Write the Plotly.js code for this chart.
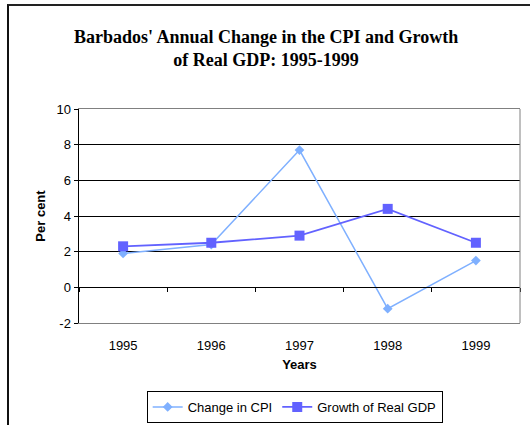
<!DOCTYPE html>
<html>
<head>
<meta charset="utf-8">
<script src="https://cdn.plot.ly/plotly-3.0.1.min.js"></script>
<style>
  html, body { margin: 0; padding: 0; background: #fff; overflow: hidden; width: 530px; height: 425px; }
  #chart { position: absolute; left: 0; top: 0; width: 530px; height: 425px; }
  #frame { position: absolute; left: 7px; top: 4px; width: 523px; height: 421px; box-sizing: border-box;
           border-top: 2px solid #222; border-left: 2px solid #111; border-right: none; border-bottom: none;
           pointer-events: none; }
</style>
</head>
<body>
<div id="chart"></div>
<div id="frame"></div>
<script>
const years = ['1995', '1996', '1997', '1998', '1999'];
const cpiChange = [1.9, 2.4, 7.7, -1.2, 1.5];
const realGdpGrowth = [2.3, 2.5, 2.9, 4.4, 2.5];
const yTicks = [-2, 0, 2, 4, 6, 8, 10];

const traces = [
  {
    x: years, y: cpiChange, name: 'Change in CPI', type: 'scatter', mode: 'lines+markers',
    xaxis: 'x', yaxis: 'y',
    line: { color: '#7FB0FF', width: 1.5 },
    marker: { symbol: 'diamond', size: 7.5, color: '#7FB0FF' }
  },
  {
    x: years, y: realGdpGrowth, name: 'Growth of Real GDP', type: 'scatter', mode: 'lines+markers',
    xaxis: 'x2', yaxis: 'y',
    line: { color: '#6262FF', width: 1.8 },
    marker: { symbol: 'square', size: 10, color: '#6262FF' }
  }
];

const layout = {
  width: 530, height: 425,
  margin: { l: 79, r: 10, t: 109, b: 102 },
  paper_bgcolor: '#ffffff', plot_bgcolor: '#ffffff',
  font: { family: 'Liberation Sans, Arial, sans-serif', size: 13, color: '#000' },
  title: {
    text: "<b>Barbados' Annual Change in the CPI and Growth<br>of Real GDP: 1995-1999</b>",
    font: { family: 'Liberation Serif, Times New Roman, serif', size: 18, color: '#000' },
    xref: 'container', x: 0.502, xanchor: 'center',
    yref: 'container', y: 0.90, yanchor: 'top'
  },
  showlegend: true,
  legend: {
    orientation: 'h', xref: 'container', x: 0.556, xanchor: 'center',
    yref: 'container', y: 0.08, yanchor: 'top',
    bordercolor: '#000', borderwidth: 1, bgcolor: '#fff',
    font: { size: 13 }, itemwidth: 30, tracegroupgap: 0
  },
  xaxis: {
    type: 'category', range: [-0.5, 4.5], automargin: false,
    showline: true, linecolor: '#808080', linewidth: 1, mirror: true,
    showgrid: false, zeroline: false,
    ticks: 'outside', ticklen: 10, tickcolor: 'rgba(0,0,0,0)',
    tickfont: { size: 13 },
    title: { text: '<b>Years</b>', font: { size: 13 }, standoff: 8 }
  },
  xaxis2: {
    type: 'category', range: [-0.5, 4.5], overlaying: 'x', anchor: 'free', position: 1/6,
    showline: true, linecolor: '#000', linewidth: 1, automargin: false,
    ticks: 'outside', tickson: 'boundaries', ticklen: 4, tickcolor: '#000',
    showticklabels: false, showgrid: false, zeroline: false
  },
  yaxis: {
    range: [-2, 10], tickvals: yTicks, ticktext: yTicks.map(String), automargin: false,
    showline: true, linecolor: '#000', linewidth: 1.5,
    ticks: 'outside', ticklen: 4, tickcolor: '#000',
    showgrid: true, gridcolor: '#000', gridwidth: 1,
    zeroline: true, zerolinecolor: '#000', zerolinewidth: 1,
    tickfont: { size: 13 },
    title: { text: '<b>Per cent</b>', font: { size: 13 }, standoff: 8 }
  },
  shapes: [
    { type: 'line', xref: 'paper', yref: 'paper', x0: 1, x1: 1, y0: 0, y1: 1,
      line: { color: '#808080', width: 1 } }
  ]
};

Plotly.newPlot('chart', traces, layout, { displayModeBar: false, staticPlot: true });
</script>
</body>
</html>
